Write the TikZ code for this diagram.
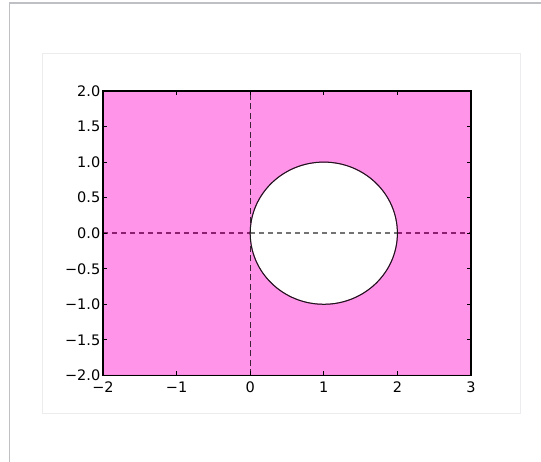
\documentclass[tikz,border=0pt]{standalone}
\usepackage{fontspec}
\setmainfont{DejaVu Sans}
\usetikzlibrary{calc}
\definecolor{regionpink}{RGB}{255,148,232}
\definecolor{regionedge}{RGB}{205,70,175}
\definecolor{zeroline}{RGB}{140,30,112}
\definecolor{zerogray}{RGB}{115,115,115}
\definecolor{vline}{RGB}{60,35,55}
\definecolor{outerframe}{RGB}{190,192,196}
\definecolor{innerframe}{RGB}{236,236,238}

\begin{document}
\begin{tikzpicture}[x=1pt, y=1pt, every node/.style={font=\fontsize{14.5}{15}\selectfont, inner sep=0pt}]
\tikzset{
  tickmark/.style={black, line width=1pt},
  xlab/.style={anchor=north, yshift=-6pt},
  ylab/.style={anchor=east, xshift=-2.5pt},
  hdash/.style={line width=1.8pt, dash pattern=on 4.5pt off 4.5pt},
  vdash/.style={vline, line width=1.4pt, dash pattern=on 6pt off 3.5pt},
}
\useasboundingbox (0,0) rectangle (541,462);
% frames
\draw[outerframe, line width=1.2pt] (9.5,0) -- (9.5,459) -- (541,459);
\draw[innerframe, line width=0.8pt] (42,49) rectangle (520,409);
% plot area
\begin{scope}[shift={(250.2,228.8)}, x=73.6pt, y=71.1pt]
  \filldraw[fill=regionpink, draw=regionedge, line width=1pt, even odd rule]
    (-2,-2) rectangle (3,2) (1,0) circle [radius=1];
  \draw[hdash, zeroline] (-2,0) -- (0,0);
  \draw[hdash, zerogray] (0,0) -- (2,0);
  \draw[hdash, zeroline] (2,0) -- (3,0);
  \draw[vdash] (0,-2) -- (0,2);
  \draw[black!90, line width=1pt] (1,0) circle [radius=1];
  \draw[black, line width=1.1pt] (-2,-2) rectangle (3,2);
  % ticks and labels
  \foreach \x/\lab [count=\i] in {-2/−2, -1/−1, 0/0, 1/1, 2/2, 3/3} {
    \draw[tickmark] (\x,-2) -- ++(0,4pt);
    \draw[tickmark] (\x,2) -- ++(0,-4pt);
    \node[xlab] (xlab\i) at (\x,-2) {\lab};
  }
  \foreach \y/\lab [count=\i] in {2/2.0, 1.5/1.5, 1/1.0, 0.5/0.5, 0/0.0, -0.5/−0.5, -1/−1.0, -1.5/−1.5, -2/−2.0} {
    \draw[tickmark] (-2,\y) -- ++(4pt,0);
    \draw[tickmark] (3,\y) -- ++(-4pt,0);
    \node[ylab] (ylab\i) at (-2,\y) {\lab};
  }
\end{scope}
\end{tikzpicture}
\end{document}
